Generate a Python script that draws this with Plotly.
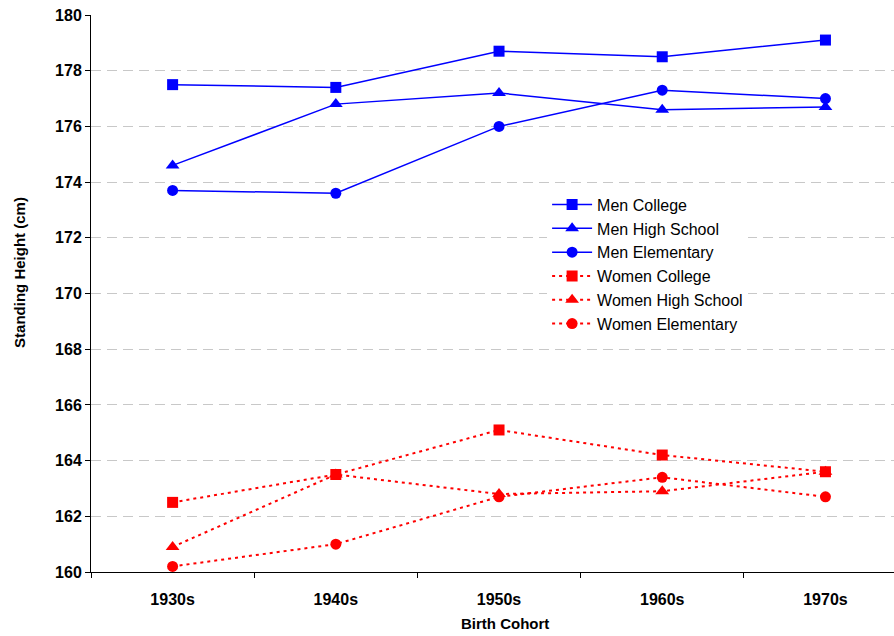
import plotly.graph_objects as go

cohorts = ["1930s", "1940s", "1950s", "1960s", "1970s"]
men_college = [177.5, 177.4, 178.7, 178.5, 179.1]
men_high_school = [174.6, 176.8, 177.2, 176.6, 176.7]
men_elementary = [173.7, 173.6, 176.0, 177.3, 177.0]
women_college = [162.5, 163.5, 165.1, 164.2, 163.6]
women_high_school = [160.9, 163.5, 162.8, 162.9, 163.6]
women_elementary = [160.2, 161.0, 162.7, 163.4, 162.7]

series = [
    ("Men College", men_college, "#0000FF", "solid", "square"),
    ("Men High School", men_high_school, "#0000FF", "solid", "triangle-up"),
    ("Men Elementary", men_elementary, "#0000FF", "solid", "circle"),
    ("Women College", women_college, "#FF0000", "3px,4px", "square"),
    ("Women High School", women_high_school, "#FF0000", "3px,4px", "triangle-up"),
    ("Women Elementary", women_elementary, "#FF0000", "3px,4px", "circle"),
]

FONT = "Arial, Liberation Sans, sans-serif"

fig = go.Figure()
for name, vals, color, dash, sym in series:
    fig.add_trace(go.Scatter(
        x=cohorts, y=vals, name=name, mode="lines+markers",
        line=dict(color=color, width=1.5 if dash == "solid" else 2, dash=dash),
        marker=dict(symbol=sym, color=color, size=12 if sym == "triangle-up" else 11,
                    line=dict(width=0)),
    ))

fig.update_layout(
    width=894, height=636,
    margin=dict(l=91, r=0, t=15, b=64),
    plot_bgcolor="white", paper_bgcolor="white",
    font=dict(family=FONT, color="black", size=16),
    showlegend=True,
    legend=dict(
        x=0.568, y=0.69, xanchor="left", yanchor="top",
        bgcolor="white", borderwidth=0,
        font=dict(family=FONT, size=16, color="black"),
        itemwidth=40,
    ),
    xaxis=dict(
        type="category", range=[-0.5, 4.42],
        tickson="boundaries", ticks="outside", ticklen=5, tickcolor="black",
        showline=True, linecolor="black", linewidth=1,
        showgrid=False, zeroline=False,
        tickfont=dict(family=FONT, size=16, weight="bold"),
        ticklabelstandoff=13,
    ),
    yaxis=dict(
        range=[160, 180], dtick=2, tick0=160,
        ticks="outside", ticklen=5, tickcolor="black",
        showline=True, linecolor="black", linewidth=1,
        showgrid=True, gridcolor="#C8C8C8", griddash="10px,6px", gridwidth=1,
        zeroline=False,
        tickfont=dict(family=FONT, size=16, weight="bold"),
    ),
    annotations=[
        dict(text="<b>Standing Height (cm)</b>", xref="paper", yref="paper",
             x=0, y=0.537, xanchor="center", yanchor="middle", xshift=-71,
             textangle=-90, showarrow=False, font=dict(family=FONT, size=15)),
        dict(text="<b>Birth Cohort</b>", xref="paper", yref="paper",
             x=0.5156, y=0, xanchor="center", yanchor="middle", yshift=-51,
             showarrow=False, font=dict(family=FONT, size=15)),
    ],
)

fig.write_html("out.html")
